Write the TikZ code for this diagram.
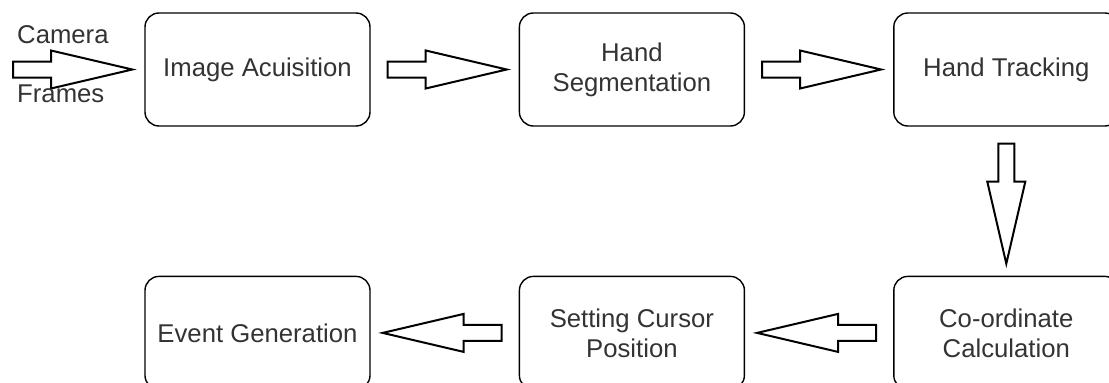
\documentclass[tikz,border=0pt]{standalone}
\usepackage{fontspec}
\setmainfont{Liberation Sans}
\usetikzlibrary{positioning,calc}
\definecolor{Ink}{HTML}{333333}

% hollow block arrow between two points, optional start gap
\newcommand{\blockarrow}[3][17]{%
  \coordinate (ba-s) at ($(#2)!#1pt!(#3)$);
  \coordinate (ba-t) at ($(#3)!12pt!(#2)$);
  \draw[blockarr] ($(ba-s)!8pt!90:(ba-t)$)
    -- ($(ba-s)!38pt!(ba-t)!8pt!90:(ba-t)$)
    -- ($(ba-s)!38pt!(ba-t)!19pt!90:(ba-t)$)
    -- (ba-t)
    -- ($(ba-s)!38pt!(ba-t)!19pt!-90:(ba-t)$)
    -- ($(ba-s)!38pt!(ba-t)!8pt!-90:(ba-t)$)
    -- ($(ba-s)!8pt!-90:(ba-t)$) -- cycle;
}

\begin{document}
\begin{tikzpicture}[x=1pt, y=-1pt,
    node distance=148pt,
    stage/.style={draw=black, line width=1.4pt, rounded corners=14pt, minimum width=225pt,
      minimum height=113pt, inner sep=0pt, align=center, text=Ink,
      font=\fontsize{25.7}{30}\selectfont},
    blockarr/.style={draw=black, line width=2pt, fill=white, line join=miter},
    lbl/.style={text=Ink, inner sep=0pt, anchor=base west, font=\fontsize{25.7}{30}\selectfont}
  ]
  \useasboundingbox (0,0) rectangle (1109,383);
  \clip (0,0) rectangle (1109,383);

  \node[stage] (acq) at (257.5,69.5) {Image Acuisition};
  \node[stage, right=of acq] (seg) {Hand\\Segmentation};
  \node[stage, right=of seg] (track) {Hand Tracking};
  \node[stage, below=149pt of track] (coord) {Co-ordinate\\Calculation};
  \node[stage, left=of coord] (cursor) {Setting Cursor\\Position};
  \node[stage, left=of cursor] (event) {Event Generation};

  \coordinate (cam) at (13,69.5);
  \blockarrow[0]{cam}{acq.west}
  \blockarrow{acq.east}{seg.west}
  \blockarrow{seg.east}{track.west}
  \blockarrow{track.south}{coord.north}
  \blockarrow{coord.west}{cursor.east}
  \blockarrow{cursor.west}{event.east}

  \node[lbl] (camera) at (17,43) {Camera};
  \node[lbl] (frames) at (17,102) {Frames};
\end{tikzpicture}
\end{document}
